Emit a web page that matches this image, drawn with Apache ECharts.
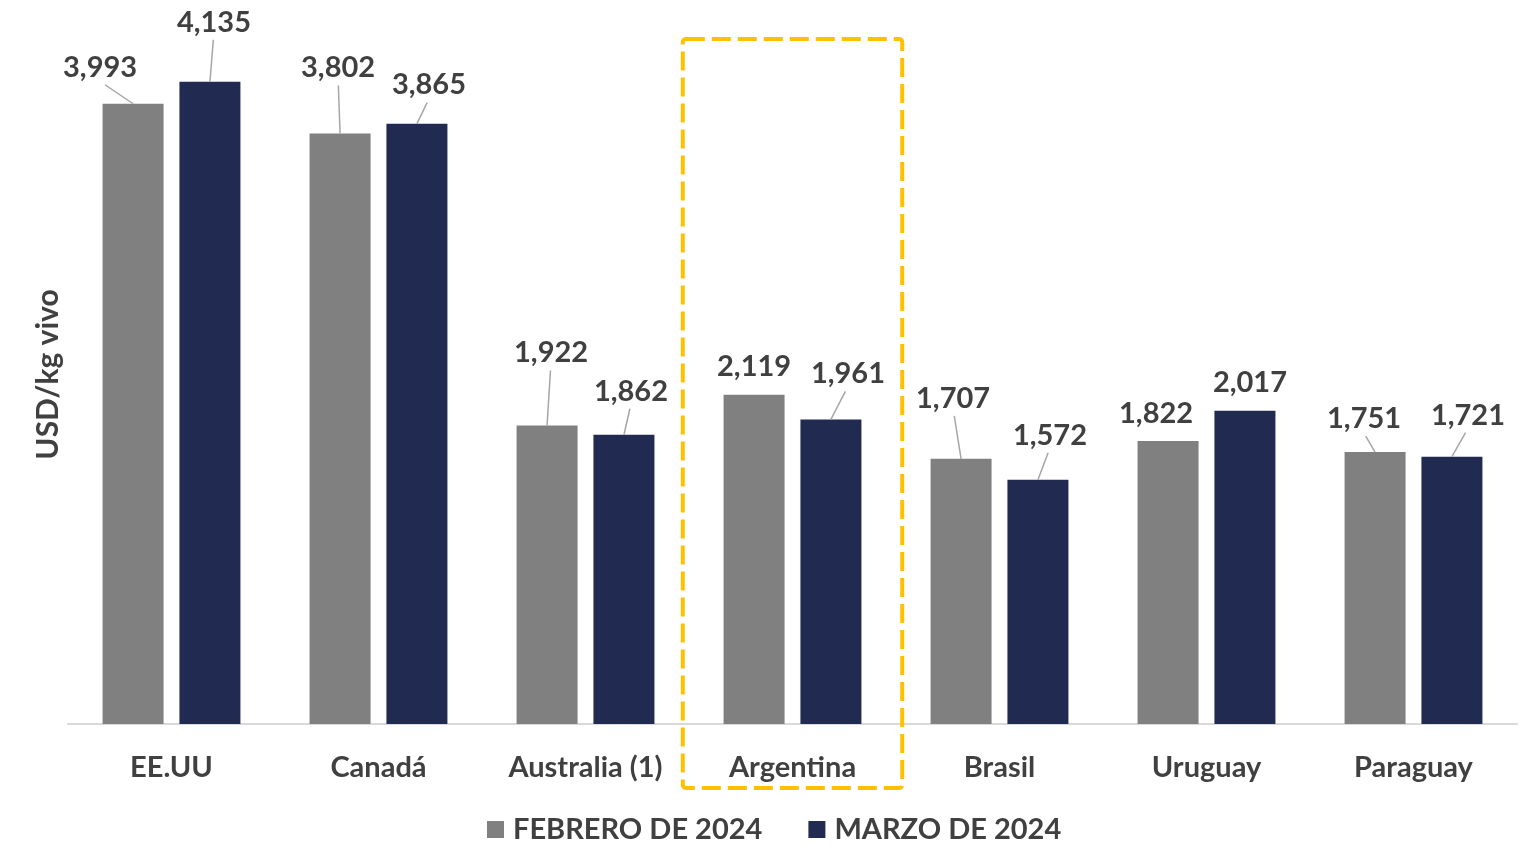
<!DOCTYPE html>
<html>
<head>
<meta charset="utf-8">
<script src="https://cdn.jsdelivr.net/npm/echarts@6/dist/echarts.min.js"></script>
<style>
html,body{margin:0;padding:0;background:#fff;}
#chart{width:1529px;height:849px;}
</style>
</head>
<body>
<div id="chart"></div>
<script>
// ---- data ----
const categories = ['EE.UU', 'Canadá', 'Australia (1)', 'Argentina', 'Brasil', 'Uruguay', 'Paraguay'];
const febrero2024 = [3.993, 3.802, 1.922, 2.119, 1.707, 1.822, 1.751];
const marzo2024 = [4.135, 3.865, 1.862, 1.961, 1.572, 2.017, 1.721];
const seriesNames = ['FEBRERO DE 2024', 'MARZO DE 2024'];
const highlightCategory = 'Argentina';

// ---- label placement (style only): dx, dy, leader line on/off ----
const febLabelShift = [[-33,-17,1],[-2,-46,1],[4,-53,1],[0,-9,0],[-8,-41,1],[-12,-8,0],[-11,-14,1]];
const marLabelShift = [[4,-40,1],[12,-19,1],[7,-24,1],[17,-26,1],[12,-25,1],[5,-9,0],[16,-22,1]];
const labelShifts = [febLabelShift, marLabelShift];

const FONT = 'Lato, "Noto Sans", sans-serif';
const TXT = '#404040';
const LABEL_DIST = 5;

function fmt(v){ return v.toFixed(3).replace('.', ','); }

function makeLayout(shifts){
  return function(p){
    const s = shifts[p.dataIndex];
    return {dx: s[0], dy: s[1]};
  };
}

const chart = echarts.init(document.getElementById('chart'), null, {renderer:'canvas'});
const labelStyle = {show: true, position: 'top', distance: LABEL_DIST, formatter: p => fmt(p.value),
  fontFamily: FONT, fontWeight: 'bold', fontSize: 29, color: TXT};
const option = {
  animation: false,
  backgroundColor: '#ffffff',
  grid: {left: 68, right: 12, top: 25, bottom: 125},
  legend: {
    left: 487, top: 815, padding: 0,
    itemWidth: 17, itemHeight: 17, itemGap: 46,
    icon: 'rect',
    textStyle: {fontFamily: FONT, fontWeight: 'bold', fontSize: 29, color: TXT, padding: [0,0,0,4]},
    data: seriesNames
  },
  xAxis: {
    type: 'category',
    data: categories,
    axisLine: {show: true, lineStyle: {color: '#D9D9D9', width: 2}},
    axisTick: {show: false},
    axisLabel: {fontFamily: FONT, fontWeight: 'bold', fontSize: 29, color: TXT, margin: 29}
  },
  yAxis: {
    type: 'value',
    min: 0, max: 4.5,
    name: 'USD/kg vivo',
    nameLocation: 'middle',
    nameGap: 5,
    nameTextStyle: {fontFamily: FONT, fontWeight: 'bold', fontSize: 30, color: TXT},
    axisLine: {show: false},
    axisTick: {show: false},
    axisLabel: {show: false},
    splitLine: {show: false}
  },
  series: [
    {
      name: seriesNames[0], type: 'bar',
      data: febrero2024,
      barWidth: 61, barGap: '26%',
      itemStyle: {color: '#808080'},
      label: labelStyle,
      labelLayout: makeLayout(febLabelShift)
    },
    {
      name: seriesNames[1], type: 'bar',
      data: marzo2024,
      barWidth: 61, barGap: '26%',
      itemStyle: {color: '#212A50'},
      label: labelStyle,
      labelLayout: makeLayout(marLabelShift)
    }
  ]
};
chart.setOption(option);

// ---- annotations derived from the library's own layout ----
const graphics = [];
const model = chart.getModel();
for (let si = 0; si < 2; si++) {
  const data = model.getSeriesByIndex(si).getData();
  const shifts = labelShifts[si];
  for (let i = 0; i < data.count(); i++) {
    const s = shifts[i];
    if (!s[2]) continue;
    const l = data.getItemLayout(i);
    const top = Math.min(l.y, l.y + l.height);
    const bx = l.x + l.width / 2;
    graphics.push({
      type: 'line',
      shape: {x1: bx + s[0] * 0.85, y1: top - LABEL_DIST + s[1] + 3, x2: bx, y2: top},
      style: {stroke: '#A6A6A6', lineWidth: 1.5},
      z: 50, silent: true
    });
  }
}
// dashed highlight box around the highlighted category
const cx = chart.convertToPixel({xAxisIndex: 0}, highlightCategory);
const gridW = 1529 - 68 - 12;
const bandW = gridW / categories.length;
const halfW = bandW * 0.53;
graphics.push({
  type: 'rect',
  shape: {x: cx - halfW, y: 39, width: halfW * 2, height: 749, r: 3},
  style: {fill: 'none', stroke: '#FFC000', lineWidth: 4, lineDash: [19, 7]},
  z: 100, silent: true
});
chart.setOption({graphic: graphics});
</script>
</body>
</html>
